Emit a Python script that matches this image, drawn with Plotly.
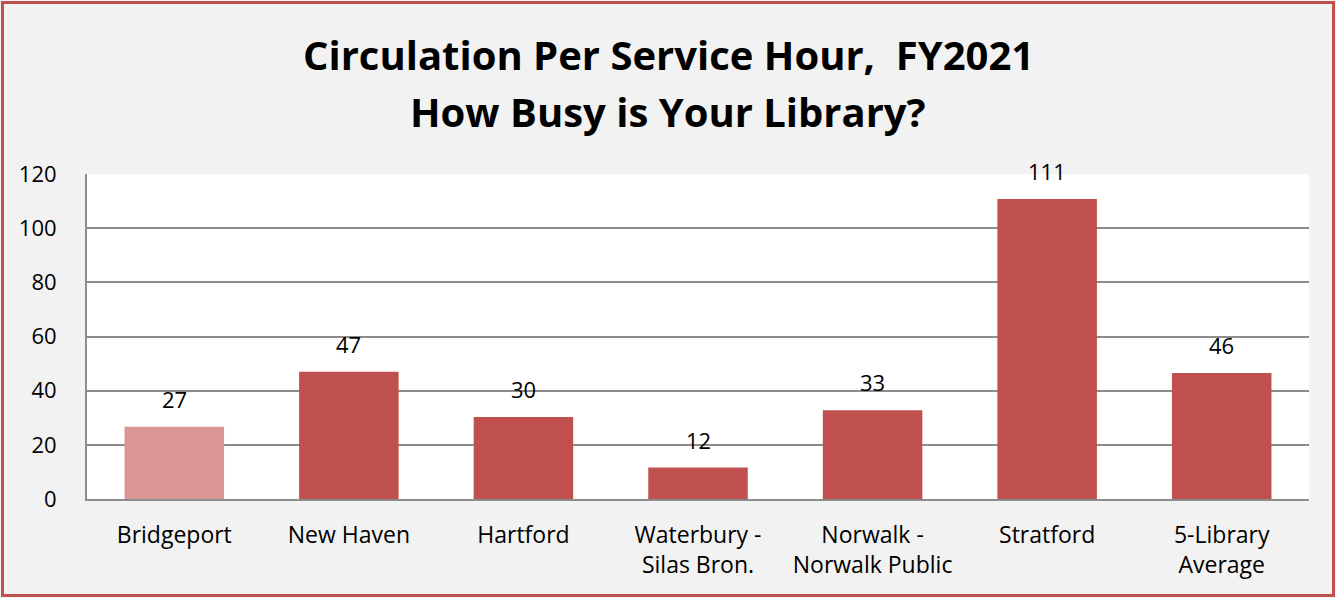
import plotly.graph_objects as go

categories = ["Bridgeport", "New Haven", "Hartford", "Waterbury -<br>Silas Bron.",
              "Norwalk -<br>Norwalk Public", "Stratford", "5-Library<br>Average"]
values = [26.7, 47.0, 30.3, 11.6, 32.8, 110.8, 46.5]
labels = ["27", "47", "30", "12", "33", "111", "46"]
colors = ["#d99694", "#c0504d", "#c0504d", "#c0504d", "#c0504d", "#c0504d", "#c0504d"]
y_ticks = [0, 20, 40, 60, 80, 100, 120]
title_lines = ["Circulation Per Service Hour,  FY2021", "How Busy is Your Library?"]

W, H = 1336, 598
ml, mr, mt, mb = 87, 27, 174, 99
pw, ph = W - ml - mr, H - mt - mb

fig = go.Figure()
fig.add_trace(go.Bar(x=categories, y=values, marker=dict(color=colors, line=dict(width=0)),
                     width=0.57, hoverinfo="skip"))

annotations = []
for c, v, t in zip(categories, values, labels):
    annotations.append(dict(x=c, y=v, text=t, showarrow=False, yanchor="bottom",
                            yshift=11, font=dict(size=22, color="#000000",
                                                 family="Open Sans")))
xc = 0.5 - (ml - mr) / 2 / pw
for line, yc in zip(title_lines, [55, 112]):
    annotations.append(dict(xref="paper", yref="paper", x=xc, y=1 + (mt - yc) / ph,
                            text="<b>" + line + "</b>", showarrow=False,
                            xanchor="center", yanchor="middle",
                            font=dict(size=40, color="#000000", family="Open Sans")))

fig.update_layout(
    width=W, height=H,
    margin=dict(l=ml, r=mr, t=mt, b=mb, pad=0),
    paper_bgcolor="#f2f2f2",
    plot_bgcolor="#ffffff",
    showlegend=False,
    annotations=annotations,
    font=dict(family="Open Sans", size=22, color="#000000"),
    shapes=[dict(type="rect", xref="paper", yref="paper",
                 x0=-(ml - 2.5) / pw, x1=1 + (mr - 2.5) / pw,
                 y0=-(mb - 2.5) / ph, y1=1 + (mt - 2.5) / ph,
                 line=dict(color="#c0504d", width=3), layer="below")],
)
fig.update_xaxes(showline=True, linecolor="#8c8c8c", linewidth=2, ticks="",
                 tickfont=dict(size=23), ticklabelstandoff=14, showgrid=False)
fig.update_yaxes(range=[0, 120], tickvals=y_ticks, showgrid=True, gridcolor="#8c8c8c",
                 gridwidth=1.5, showline=True, linecolor="#8c8c8c", linewidth=2,
                 zeroline=False, ticks="", tickfont=dict(size=22), ticklabelstandoff=24)

fig.write_html("out.html", post_script="document.body.style.margin='0';",
               config={"displayModeBar": False})
